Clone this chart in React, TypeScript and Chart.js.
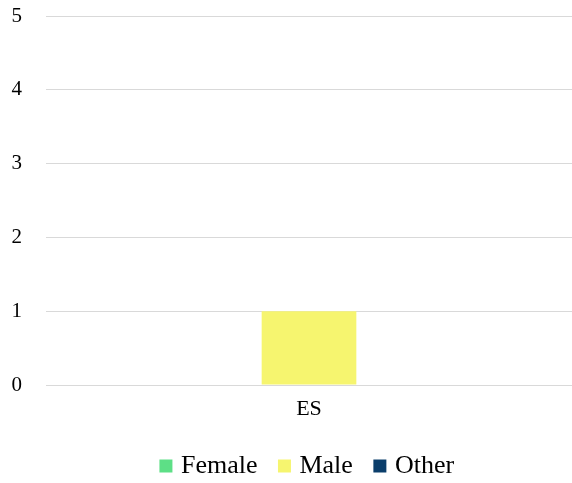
import React, { useEffect, useRef } from "react";
import { Chart, registerables } from "chart.js";

Chart.register(...registerables);

const categories = ["ES"];
const femaleValues = [0];
const maleValues = [1];
const otherValues = [0];
const yTicks = [0, 1, 2, 3, 4, 5];

const FONT = "'Liberation Serif', 'Times New Roman', serif";

const legendOverPlot = {
  id: "legendOverPlot",
  beforeDraw(chart: any) {
    const lg = chart.legend;
    if (lg && chart.chartArea) {
      lg.left = chart.chartArea.left;
      lg.right = chart.chartArea.right;
    }
  },
};

export default function App() {
  const ref = useRef<HTMLCanvasElement | null>(null);

  useEffect(() => {
    if (!ref.current) return;
    const chart = new Chart(ref.current, {
      type: "bar",
      data: {
        labels: categories,
        datasets: [
          { label: "Female", data: femaleValues, backgroundColor: "#5ddf86" },
          { label: "Male", data: maleValues, backgroundColor: "#f6f56f" },
          { label: "Other", data: otherValues, backgroundColor: "#0b3e6b" },
        ],
      },
      plugins: [legendOverPlot],
      options: {
        animation: false,
        responsive: true,
        maintainAspectRatio: false,
        datasets: { bar: { categoryPercentage: 0.6, barPercentage: 0.9 } },
        layout: { padding: { left: 0, right: 0, top: 0, bottom: -6 } },
        plugins: {
          legend: {
            position: "bottom",
            labels: {
              usePointStyle: true,
              pointStyle: "rect",
              boxWidth: 4,
              boxHeight: 13,
              color: "#000",
              font: { family: FONT, size: 26 },
              padding: 25,
            },
          },
          tooltip: { enabled: false },
        },
        scales: {
          x: {
            grid: { display: false, drawTicks: false },
            border: { display: false },
            ticks: { color: "#000", font: { family: FONT, size: 22 }, padding: 11 },
            afterFit: (scale: any) => {
              scale.height = 43;
            },
          },
          y: {
            min: yTicks[0],
            max: yTicks[yTicks.length - 1],
            afterBuildTicks: (axis: any) => {
              axis.ticks = yTicks.map((v) => ({ value: v }));
            },
            grid: { color: "#d9d9d9", drawTicks: false, lineWidth: 1 },
            border: { display: false },
            ticks: { color: "#000", font: { family: FONT, size: 21 }, padding: 24 },
            afterFit: (scale: any) => {
              scale.width = 46;
              scale.paddingTop = 16;
              scale.paddingBottom = 0;
            },
          },
        },
      },
    });
    return () => chart.destroy();
  }, []);

  return (
    <div style={{ position: "fixed", left: 0, top: 0, width: 572, height: 483, background: "#fff" }}>
      <canvas ref={ref} />
    </div>
  );
}
